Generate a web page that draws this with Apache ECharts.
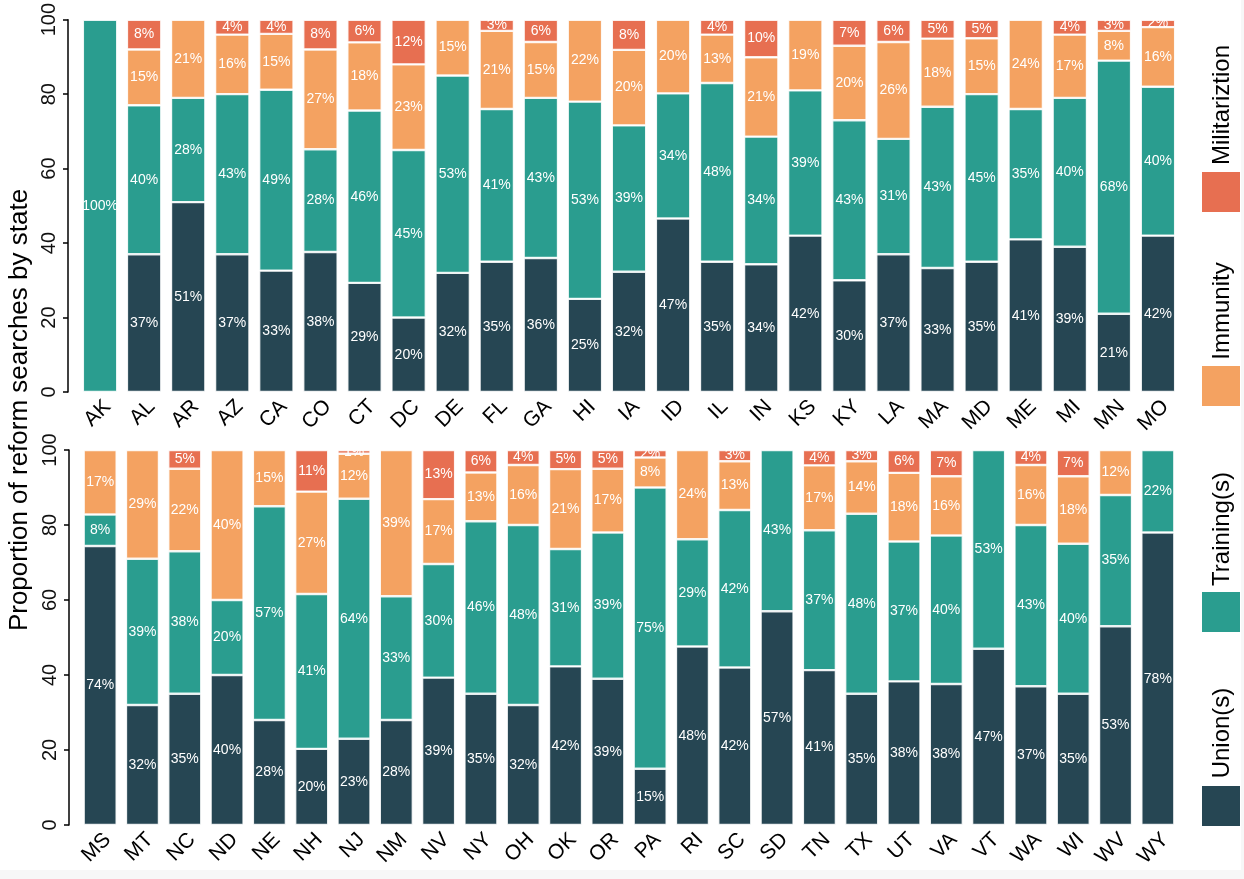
<!DOCTYPE html>
<html>
<head>
<meta charset="utf-8">
<script src="https://cdn.jsdelivr.net/npm/echarts@6/dist/echarts.min.js"></script>
<style>
html,body{margin:0;padding:0;background:#fff;}
#c{width:1244px;height:879px;}
</style>
</head>
<body>
<div id="c"></div>
<script>
// ---- data (percent of reform searches) ----
const topStates = ['AK','AL','AR','AZ','CA','CO','CT','DC','DE','FL','GA','HI','IA','ID','IL','IN','KS','KY','LA','MA','MD','ME','MI','MN','MO'];
const topUnion    = [0,37,51,37,32.6,37.6,29.3,20,32,35,36,25,32.3,46.6,35,34.3,42,30,37,33.3,35,41,39,21,42];
const topTraining = [100,40,28,43,48.6,27.6,46.3,45,53,41,43,53,39.3,33.6,48,34.3,39,43,31,43.3,45,35,40,68,40];
const topImmunity = [0,15,21,16,15,26.8,18.3,23,15,21,15,22,20.3,19.8,13,21.3,19,20,26,18.3,15,24,17,8,16];
const topMilitar  = [0,8,0,4,3.8,8,6.1,12,0,3,6,0,8.1,0,4,10.1,0,7,6,5.1,5,0,4,3,2];

const botStates = ['MS','MT','NC','ND','NE','NH','NJ','NM','NV','NY','OH','OK','OR','PA','RI','SC','SD','TN','TX','UT','VA','VT','WA','WI','WV','WY'];
const botUnion    = [74.4,32,35,40,28,20.3,23,28,39.3,35,32,42.3,39,15,47.6,42,57,41.3,35,38.3,37.6,47,37,35,53,78];
const botTraining = [8.4,39,38,20,57,41.3,64,33,30.3,46,48,31.3,39,75,28.6,42,43,37.3,48,37.3,39.6,53,43,40,35,22];
const botImmunity = [17.2,29,22,40,15,27.3,12,39,17.3,13,16,21.3,17,8,23.8,13,0,17.3,14,18.3,15.8,0,16,18,12,0];
const botMilitar  = [0,0,5,0,0,11.1,1,0,13.1,6,4,5.1,5,2,0,3,0,4.1,3,6.1,7,0,4,7,0,0];

const seriesNames = ['Union(s)','Training(s)','Immunity','Militariztion'];
const colors = ['#264653','#2a9d8f','#f4a261','#e76f51'];
const yTicks = [0,20,40,60,80,100];

const FONT = "'Liberation Sans', Arial, sans-serif";

function mk(name, data, color, gi, stack) {
  return {
    name: name, type: 'bar', stack: stack,
    xAxisIndex: gi, yAxisIndex: gi,
    barCategoryGap: '22%',
    data: data.map(v => v === 0 ? '-' : v),
    itemStyle: { color: color, borderColor: 'rgba(255,255,255,0.85)', borderWidth: 1.2 },
    label: {
      show: true, position: 'inside', color: '#fff', fontSize: 14, fontFamily: FONT,
      formatter: p => Math.round(p.value) + '%'
    },
    emphasis: { disabled: true }
  };
}

const series = [
  mk(seriesNames[0], topUnion, colors[0], 0, 'a'),
  mk(seriesNames[1], topTraining, colors[1], 0, 'a'),
  mk(seriesNames[2], topImmunity, colors[2], 0, 'a'),
  mk(seriesNames[3], topMilitar, colors[3], 0, 'a'),
  mk(seriesNames[0], botUnion, colors[0], 1, 'b'),
  mk(seriesNames[1], botTraining, colors[1], 1, 'b'),
  mk(seriesNames[2], botImmunity, colors[2], 1, 'b'),
  mk(seriesNames[3], botMilitar, colors[3], 1, 'b')
];

function xAx(cats, gi) {
  return {
    type: 'category', gridIndex: gi, data: cats,
    axisLine: { show: false }, axisTick: { show: false },
    axisLabel: { rotate: 45, fontSize: 21, color: '#000', fontFamily: FONT, margin: 4, interval: 0, verticalAlign: 'top' }
  };
}
function yAx(gi) {
  return {
    type: 'value', gridIndex: gi, min: yTicks[0], max: yTicks[yTicks.length-1], interval: 20,
    offset: 10,
    splitLine: { show: false },
    axisLine: { show: true, lineStyle: { color: '#000', width: 1.5 } },
    axisTick: { show: true, length: 5, lineStyle: { color: '#000', width: 1.5 } },
    axisLabel: { rotate: 90, fontSize: 20, color: '#111', fontFamily: FONT, margin: 9 }
  };
}

// legend drawn as graphic (rotated text like the reference)
const legendPos = [
  { name: 'Union(s)', color: colors[0], sq: 786, ty: 733 },
  { name: 'Training(s)', color: colors[1], sq: 592, ty: 529 },
  { name: 'Immunity', color: colors[2], sq: 366, ty: 311 },
  { name: 'Militariztion', color: colors[3], sq: 172, ty: 105 }
];
const graphic = [];
// white masks above each plot area, so labels of tiny top segments are cut at the panel edge
graphic.push({ type: 'rect', left: 76, top: 0, z: 100, silent: true, shape: { width: 1106, height: 17 }, style: { fill: '#fff' } });
graphic.push({ type: 'rect', left: 76, top: 437, z: 100, silent: true, shape: { width: 1106, height: 13 }, style: { fill: '#fff' } });
legendPos.forEach(l => {
  graphic.push({ type: 'rect', left: 1202, top: l.sq, shape: { width: 38, height: 40 }, style: { fill: l.color } });
  graphic.push({ type: 'text', x: 1222, y: l.ty, rotation: Math.PI/2,
    style: { text: l.name, fontSize: 24, fontFamily: FONT, fill: '#000', align: 'center', verticalAlign: 'middle' } });
});
graphic.push({ type: 'text', x: 20, y: 410, rotation: Math.PI/2,
  style: { text: 'Proportion of reform searches by state', fontSize: 26, fontFamily: FONT, fill: '#000', align: 'center', verticalAlign: 'middle' } });
graphic.push({ type: 'rect', left: 0, top: 870, shape: { width: 1244, height: 9 }, style: { fill: '#f7f7f7' }, silent: true });
graphic.push({ type: 'rect', left: 1241, top: 0, shape: { width: 3, height: 879 }, style: { fill: '#f7f7f7' }, silent: true });

const chart = echarts.init(document.getElementById('c'), null, { renderer: 'canvas' });
chart.setOption({
  animation: false,
  backgroundColor: '#fff',
  grid: [
    { left: 78, right: 64, top: 17, height: 375 },
    { left: 79, right: 65, top: 450, height: 375 }
  ],
  xAxis: [xAx(topStates, 0), xAx(botStates, 1)],
  yAxis: [yAx(0), yAx(1)],
  graphic: graphic,
  series: series
});
</script>
</body>
</html>
